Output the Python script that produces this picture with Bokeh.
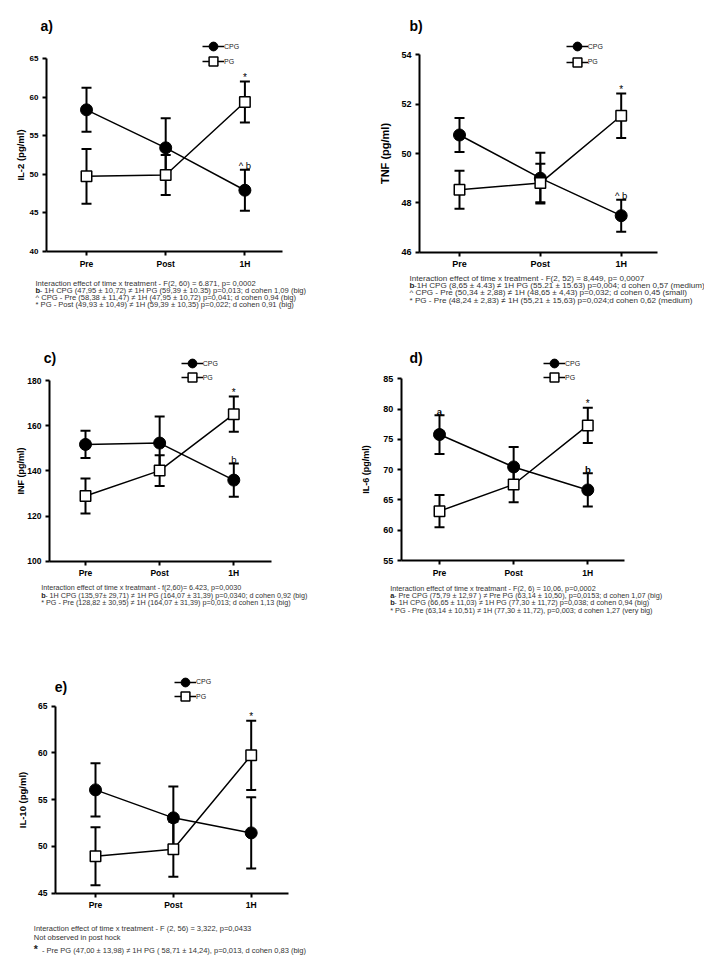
from bokeh.plotting import figure
from bokeh.models import FixedTicker, Label, Legend, LegendItem, Range1d
from bokeh.layouts import column, row
from bokeh.embed import file_html
from bokeh.resources import INLINE
from bokeh.core.properties import value

FONT = "Liberation Sans"

# ---------------- data ----------------
times = ["Pre", "Post", "1H"]

il2_cpg = [58.38, 53.45, 47.95]
il2_cpg_sem = [2.85, 3.85, 2.65]
il2_pg = [49.75, 49.93, 59.39]
il2_pg_sem = [3.55, 2.60, 2.65]
il2_ticks = [40, 45, 50, 55, 60, 65]

tnf_cpg = [50.75, 49.00, 47.48]
tnf_cpg_sem = [0.69, 1.03, 0.65]
tnf_pg = [48.53, 48.80, 51.53]
tnf_pg_sem = [0.77, 0.78, 0.90]
tnf_ticks = [46, 48, 50, 52, 54]

inf_cpg = [151.7, 152.3, 135.9]
inf_cpg_sem = [6.0, 11.8, 7.4]
inf_pg = [128.9, 140.1, 165.1]
inf_pg_sem = [7.75, 6.8, 7.8]
inf_ticks = [100, 120, 140, 160, 180]

il6_cpg = [75.80, 70.45, 66.65]
il6_cpg_sem = [3.20, 3.30, 2.75]
il6_pg = [63.15, 67.55, 77.30]
il6_pg_sem = [2.65, 2.95, 2.90]
il6_ticks = [55, 60, 65, 70, 75, 80, 85]

il10_cpg = [56.05, 53.06, 51.45]
il10_cpg_sem = [2.85, 3.35, 3.80]
il10_pg = [48.95, 49.70, 59.75]
il10_pg_sem = [3.10, 2.95, 3.70]
il10_ticks = [45, 50, 55, 60, 65]

groups = ["CPG", "PG"]

cap_a = [
    (None, "Interaction effect of time x treatment - F(2, 60) = 6.871, p= 0,0002"),
    ("b", " - 1H CPG (47,95 \u00b1 10,72) \u2260 1H PG (59,39 \u00b1 10.35) p=0,013; d cohen 1,09 (big)"),
    (None, "^ CPG - Pre (58,38 \u00b1 11,47) \u2260 1H (47,95 \u00b1 10,72) p=0,041; d cohen 0,94 (big)"),
    (None, "* PG - Post (49,93 \u00b1 10,49) \u2260 1H (59,39 \u00b1 10,35) p=0,022; d cohen 0,91 (big)"),
]
cap_b = [
    (None, "Interaction effect of time x treatment - F(2, 52) = 8,449, p= 0,0007"),
    ("b", " -1H CPG (8,65 \u00b1 4.43) \u2260 1H PG (55.21 \u00b1 15.63) p=0,004; d cohen 0,57 (medium)"),
    (None, "^ CPG - Pre (50,34 \u00b1 2,88) \u2260 1H (48,65 \u00b1 4,43) p=0,032; d cohen 0,45 (small)"),
    (None, "* PG - Pre (48,24 \u00b1 2,83) \u2260 1H (55,21 \u00b1 15,63) p=0,024;d cohen 0,62 (medium)"),
]
cap_c = [
    (None, "Interaction effect of time x treatmant - f(2,60)= 6.423, p=0,0030"),
    ("b", " - 1H CPG (135,97\u00b1 29,71) \u2260 1H PG (164,07 \u00b1 31,39) p=0,0340; d cohen 0,92 (big)"),
    (None, "* PG - Pre (128,82 \u00b1 30,95) \u2260 1H (164,07 \u00b1 31,39) p=0,013; d cohen 1,13 (big)"),
]
cap_d = [
    (None, "Interaction effect of time x treatmant - F(2, 6) = 10,06, p=0,0002"),
    ("a", " - Pre CPG (75,79 \u00b1 12,97 ) \u2260 Pre PG (63,14 \u00b1 10,50), p=0,0153; d cohen 1,07 (big)"),
    ("b", " - 1H CPG (66,65 \u00b1 11,03) \u2260 1H PG (77,30 \u00b1 11,72) p=0,038; d cohen 0,94 (big)"),
    (None, "* PG - Pre (63,14 \u00b1 10,51) \u2260 1H (77,30 \u00b1 11,72), p=0,003; d cohen 1,27 (very big)"),
]
cap_e = [
    (None, "Interaction effect of time x treatment - F (2, 56) = 3,322, p=0,0433"),
    (None, "Not observed in post hock"),
    ("*", " -  Pre PG (47,00 \u00b1 13,98) \u2260 1H PG ( 58,71 \u00b1 14,24), p=0,013, d cohen 0,83 (big)"),
]

# ---------------- layout specs (page pixels) ----------------
# box: canvas (left, top, width, height); pre_x/step: x pixel of first category and spacing;
# ypx: pixel rows of lowest/highest tick; axpx: pixel x of y axis line and end of x axis line
panels = [
    dict(tag="a)", ylabel="IL-2 (pg/ml)", cpg=il2_cpg, cpg_sem=il2_cpg_sem, pg=il2_pg, pg_sem=il2_pg_sem,
         ticks=il2_ticks, box=(0, 0, 354, 330), pre_x=86, step=79.2, ypx=(251, 58.3), axpx=(46, 282),
         ylab_fs="9.5px", ylab_sd=1, tick_fs="8px", x_fs="8.5px",
         title_xy=(40, 25.3), leg=[(213, 46), (213, 61)],
         cap=cap_a, cap_x=35, cap_y=[282.7, 290, 297.3, 304.3], cap_fs=7.6,
         ann=[("pg", 2, "*", False), ("cpg", 2, "^ b", False)]),
    dict(tag="b)", ylabel="TNF (pg/ml)", cpg=tnf_cpg, cpg_sem=tnf_cpg_sem, pg=tnf_pg, pg_sem=tnf_pg_sem,
         ticks=tnf_ticks, box=(354, 0, 350, 330), pre_x=459, step=80.85, ypx=(251.7, 54.3), axpx=(419, 657),
         ylab_fs="11px", ylab_sd=7, tick_fs="9px", x_fs="9px",
         title_xy=(409, 25.8), leg=[(576.7, 46), (576.7, 61.7)],
         cap=cap_b, cap_x=409, cap_y=[277.7, 285, 292.3, 299.7], cap_fs=8.1,
         ann=[("pg", 2, "*", False), ("cpg", 2, "^ b", False)]),
    dict(tag="c)", ylabel="INF (pg/ml)", cpg=inf_cpg, cpg_sem=inf_cpg_sem, pg=inf_pg, pg_sem=inf_pg_sem,
         ticks=inf_ticks, box=(0, 330, 354, 330), pre_x=85, step=74.15, ypx=(560.7, 380), axpx=(49, 270.7),
         ylab_fs="9px", ylab_sd=-2, tick_fs="8.5px", x_fs="8.5px",
         title_xy=(43.3, 357), leg=[(191.7, 363.3), (191.7, 377.3)],
         cap=cap_c, cap_x=40.7, cap_y=[587.3, 594.7, 602.3], cap_fs=7.2,
         ann=[("pg", 2, "*", False), ("cpg", 2, "b", False)]),
    dict(tag="d)", ylabel="IL-6 (pg/ml)", cpg=il6_cpg, cpg_sem=il6_cpg_sem, pg=il6_pg, pg_sem=il6_pg_sem,
         ticks=il6_ticks, box=(354, 330, 350, 330), pre_x=439, step=74.15, ypx=(560, 378.3), axpx=(400.7, 624),
         ylab_fs="9px", ylab_sd=9, tick_fs="9px", x_fs="8.5px",
         title_xy=(409, 357.5), leg=[(554, 363.3), (554, 377.3)],
         cap=cap_d, cap_x=389.7, cap_y=[587.7, 595, 602.3, 610], cap_fs=7.3,
         ann=[("cpg", 0, "a", True), ("pg", 2, "*", False), ("cpg", 2, "b", True)]),
    dict(tag="e)", ylabel="IL-10 (pg/ml)", cpg=il10_cpg, cpg_sem=il10_cpg_sem, pg=il10_pg, pg_sem=il10_pg_sem,
         ticks=il10_ticks, box=(0, 660, 354, 305), pre_x=95, step=77.85, ypx=(892.7, 705.7), axpx=(55, 288.3),
         ylab_fs="9.5px", ylab_sd=7, tick_fs="8.5px", x_fs="8.5px",
         title_xy=(54.3, 686), leg=[(185, 681.7), (185, 696)],
         cap=cap_e, cap_x=33.3, cap_y=[928.3, 936.7, 950], cap_fs=7.5,
         ann=[("pg", 2, "*", False)]),
]

PREFIX_EM = {"a": 0.52, "b": 0.55, "*": 0.78}
xs = list(range(len(times)))


def make_panel(s):
    ox, oy, W, H = s["box"]
    x0, step = s["pre_x"], s["step"]
    ticks = s["ticks"]
    lo, hi = ticks[0], ticks[-1]
    bot, top = s["ypx"]
    k = (hi - lo) / (bot - top)
    xr = Range1d((ox - x0) / step, (ox + W - x0) / step)
    yr = Range1d(lo - (oy + H - bot) * k, hi + (top - oy) * k)
    p = figure(x_range=xr, y_range=yr, frame_width=W, frame_height=H, min_border=0,
               toolbar_location=None, output_backend="svg", title=None)
    p.outline_line_color = None
    p.grid.visible = False
    p.background_fill_color = "white"
    p.border_fill_color = "white"

    ax_x = (s["axpx"][0] - x0) / step
    ax_end = (s["axpx"][1] - x0) / step
    for ax in (p.xaxis[0], p.yaxis[0]):
        ax.axis_line_width = 2
        ax.axis_line_color = "black"
        ax.major_tick_line_width = 2
        ax.major_tick_line_color = "black"
        ax.major_tick_out = 4
        ax.major_tick_in = 0
        ax.minor_tick_line_color = None
        ax.major_label_text_font = FONT
        ax.major_label_text_font_style = "bold"
        ax.major_label_text_color = "black"
    p.yaxis.fixed_location = ax_x
    p.yaxis.bounds = (lo, hi)
    p.yaxis.ticker = FixedTicker(ticks=ticks)
    p.yaxis.major_label_text_font_size = s["tick_fs"]
    p.yaxis.major_label_standoff = 4
    p.xaxis.fixed_location = lo
    p.xaxis.bounds = (ax_x, ax_end)
    p.xaxis.ticker = FixedTicker(ticks=xs)
    p.xaxis.major_label_overrides = {i: t for i, t in zip(xs, times)}
    p.xaxis.major_label_text_font_size = s["x_fs"]
    p.xaxis.major_label_standoff = 3
    p.yaxis.axis_label = s["ylabel"]
    p.yaxis.axis_label_text_font = FONT
    p.yaxis.axis_label_text_font_style = "bold"
    p.yaxis.axis_label_text_font_size = s["ylab_fs"]
    p.yaxis.axis_label_standoff = s["ylab_sd"]
    p.yaxis.axis_label_text_color = "black"

    series = {"cpg": (s["cpg"], s["cpg_sem"]), "pg": (s["pg"], s["pg_sem"])}
    for key in ("cpg", "pg"):
        m, e = series[key]
        lo_e = [a - b for a, b in zip(m, e)]
        hi_e = [a + b for a, b in zip(m, e)]
        p.segment(x0=xs, y0=lo_e, x1=xs, y1=hi_e, line_color="black", line_width=2)
        p.scatter(xs, hi_e, marker="dash", size=10, line_color="black", line_width=2)
        p.scatter(xs, lo_e, marker="dash", size=10, line_color="black", line_width=2)
    l_cpg = p.line(xs, s["cpg"], line_color="black", line_width=1.5)
    l_pg = p.line(xs, s["pg"], line_color="black", line_width=1.5)
    m_cpg = p.scatter(xs, s["cpg"], marker="circle", size=12, fill_color="black", line_color="black")
    m_pg = p.scatter(xs, s["pg"], marker="square", size=10.5, fill_color="white",
                     line_color="black", line_width=1.5)

    for key, i, txt, bold in s["ann"]:
        m, e = series[key]
        star = txt == "*"
        p.text(x=[xs[i]], y=[m[i] + e[i]], text=[txt], text_font=value(FONT),
               text_font_size="10px" if star else "9.5px",
               text_font_style="bold" if bold else "normal",
               text_align="center", text_baseline="alphabetic",
               y_offset=-4, text_color="black")

    def sx(X):
        return X - ox

    def sy(Y):
        return (oy + H) - Y

    tx, ty = s["title_xy"]
    p.add_layout(Label(x=sx(tx), y=sy(ty), x_units="screen", y_units="screen", text=s["tag"],
                       text_font=FONT, text_font_size="14px", text_font_style="bold",
                       text_baseline="middle", text_align="left", text_color="black"))

    gw, gh = 22, 26
    for (cx, cy), name, rs in zip(s["leg"], groups, [[l_cpg, m_cpg], [l_pg, m_pg]]):
        leg = Legend(items=[LegendItem(label=value(name), renderers=rs)],
                     location=(sx(cx) - gw / 2, sy(cy) - gh / 2),
                     glyph_width=gw, glyph_height=gh, label_height=gh, padding=0, margin=0,
                     spacing=0, label_standoff=0, border_line_color=None,
                     background_fill_alpha=0, label_text_font=FONT, label_text_font_size="7px",
                     label_text_color="#222222")
        p.add_layout(leg)

    fs = s["cap_fs"]
    for (pre, txt), Y in zip(s["cap"], s["cap_y"]):
        X = s["cap_x"]
        if pre is not None:
            big = pre == "*"
            pfs = fs * 1.4 if big else fs
            p.add_layout(Label(x=sx(X), y=sy(Y - (2 if big else 0)), x_units="screen", y_units="screen",
                               text=pre, text_font=FONT, text_font_size=f"{pfs:.1f}px",
                               text_font_style="bold", text_baseline="middle", text_align="left",
                               text_color="#222222"))
            X += PREFIX_EM[pre] * pfs
        p.add_layout(Label(x=sx(X), y=sy(Y), x_units="screen", y_units="screen", text=txt,
                           text_font=FONT, text_font_size=f"{fs:.1f}px", text_baseline="middle",
                           text_align="left", text_color="#333333"))
    return p


figs = [make_panel(s) for s in panels]
layout = column(row(figs[0], figs[1]), row(figs[2], figs[3]), figs[4])

open("out.html", "w").write(file_html(layout, INLINE))
